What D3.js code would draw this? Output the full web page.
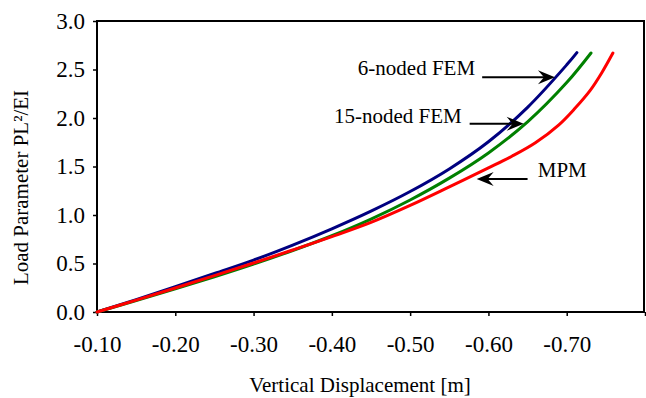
<!DOCTYPE html>
<html>
<head>
<meta charset="utf-8">
<script src="https://cdn.jsdelivr.net/npm/d3@7"></script>
<style>
  html, body { margin: 0; padding: 0; background: #fff; }
  svg { display: block; }
  text { font-family: "Liberation Serif", "Times New Roman", serif; fill: #000; }
</style>
</head>
<body>
<svg id="chart" width="646" height="398"></svg>
<script>
// ---- Data ----
const xTicks = [-0.10, -0.20, -0.30, -0.40, -0.50, -0.60, -0.70];
const yTicks = [0.0, 0.5, 1.0, 1.5, 2.0, 2.5, 3.0];

const fem6X  = [-0.10, -0.15, -0.20, -0.25, -0.30, -0.35, -0.40, -0.45, -0.50, -0.55, -0.60, -0.65, -0.70, -0.713];
const fem6Y  = [0.000, 0.128, 0.260, 0.397, 0.535, 0.690, 0.858, 1.040, 1.242, 1.475, 1.755, 2.110, 2.548, 2.674];

const fem15X = [-0.10, -0.15, -0.20, -0.25, -0.30, -0.35, -0.40, -0.45, -0.50, -0.55, -0.60, -0.65, -0.70, -0.731];
const fem15Y = [0.000, 0.117, 0.238, 0.363, 0.494, 0.634, 0.786, 0.958, 1.155, 1.380, 1.640, 1.960, 2.365, 2.670];

const mpmX   = [-0.10, -0.15, -0.20, -0.25, -0.30, -0.35, -0.40, -0.45, -0.50, -0.55, -0.60, -0.63, -0.66, -0.69, -0.71, -0.73, -0.745, -0.759];
const mpmY   = [0.000, 0.123, 0.248, 0.375, 0.505, 0.639, 0.777, 0.924, 1.099, 1.290, 1.485, 1.606, 1.745, 1.930, 2.095, 2.285, 2.470, 2.670];

const seriesNames  = ["6-noded FEM", "15-noded FEM", "MPM"];
const seriesColors = ["#000080", "#008000", "#ff0000"];

// annotation anchors in data units: label position and arrow (from -> to)
const annLabelX = [-0.583, -0.566, -0.663];
const annLabelY = [2.44, 1.95, 1.39];
const annAnchor = ["end", "end", "start"];
const annFromX  = [-0.592, -0.576, -0.650];
const annToX    = [-0.685, -0.645, -0.585];
const annArrowY = [2.42, 1.94, 1.37];

// ---- Chart ----
const svg = d3.select("#chart");
const mLeft = 97, mRight = 645, mTop = 21, mBottom = 312;

const x = d3.scaleLinear().domain([-0.10, -0.80]).range([mLeft, mRight]);
const y = d3.scaleLinear().domain([0, 3]).range([mBottom, mTop]);

// axes
const gx = svg.append("g").attr("transform", `translate(0,${mBottom})`)
  .call(d3.axisBottom(x).tickValues(xTicks.concat([-0.80])).tickSize(4)
        .tickFormat(d => d <= -0.79 ? "" : d.toFixed(2)));
gx.select(".domain").remove();
gx.selectAll(".tick line").attr("stroke", "#000").attr("stroke-width", 1.5);
gx.selectAll(".tick text").attr("y", 40).attr("dy", null)
  .style("font-size", "23px").style("font-family", "Liberation Serif");

const gy = svg.append("g").attr("transform", `translate(${mLeft},0)`)
  .call(d3.axisLeft(y).tickValues(yTicks).tickSize(4).tickPadding(8)
        .tickFormat(d3.format(".1f")));
gy.select(".domain").remove();
gy.selectAll(".tick line").attr("stroke", "#000").attr("stroke-width", 1.5);
gy.selectAll(".tick text").style("font-size", "23px").style("font-family", "Liberation Serif");

// frame
svg.append("rect")
  .attr("x", x(-0.10)).attr("y", y(3))
  .attr("width", x(-0.80) - x(-0.10) - 1).attr("height", y(0) - y(3))
  .attr("fill", "none").attr("stroke", "#000").attr("stroke-width", 2);

// lines
const series = [
  fem6X.map((v, i) => [v, fem6Y[i]]),
  fem15X.map((v, i) => [v, fem15Y[i]]),
  mpmX.map((v, i) => [v, mpmY[i]])
];
const line = d3.line().x(d => x(d[0])).y(d => y(d[1])).curve(d3.curveCatmullRom.alpha(0.5));
series.forEach((s, i) => {
  svg.append("path").datum(s)
    .attr("d", line)
    .attr("fill", "none")
    .attr("stroke", seriesColors[i])
    .attr("stroke-width", 3)
    .attr("stroke-linejoin", "round")
    .attr("stroke-linecap", "round");
});

// annotations
seriesNames.forEach((name, i) => {
  svg.append("text")
    .attr("x", x(annLabelX[i])).attr("y", y(annLabelY[i]))
    .attr("text-anchor", annAnchor[i])
    .style("font-size", "21px")
    .text(name);
  const x1 = x(annFromX[i]), x2 = x(annToX[i]), yy = y(annArrowY[i]);
  const dir = x2 > x1 ? 1 : -1;
  svg.append("line")
    .attr("x1", x1).attr("y1", yy).attr("x2", x2 - dir * 10).attr("y2", yy)
    .attr("stroke", "#000").attr("stroke-width", 2);
  const L = 17, W = 7, N = 11;
  svg.append("path")
    .attr("d", `M${x2},${yy} L${x2 - dir * L},${yy - W} L${x2 - dir * N},${yy} L${x2 - dir * L},${yy + W} Z`)
    .attr("fill", "#000");
});

// axis titles
svg.append("text")
  .attr("x", 360).attr("y", 392)
  .attr("text-anchor", "middle")
  .style("font-size", "21px")
  .text("Vertical Displacement [m]");

svg.append("text")
  .attr("transform", `translate(28,${(mTop + mBottom) / 2 + 21}) rotate(-90)`)
  .attr("text-anchor", "middle")
  .style("font-size", "21px")
  .text("Load Parameter PL²/EI");
</script>
</body>
</html>
